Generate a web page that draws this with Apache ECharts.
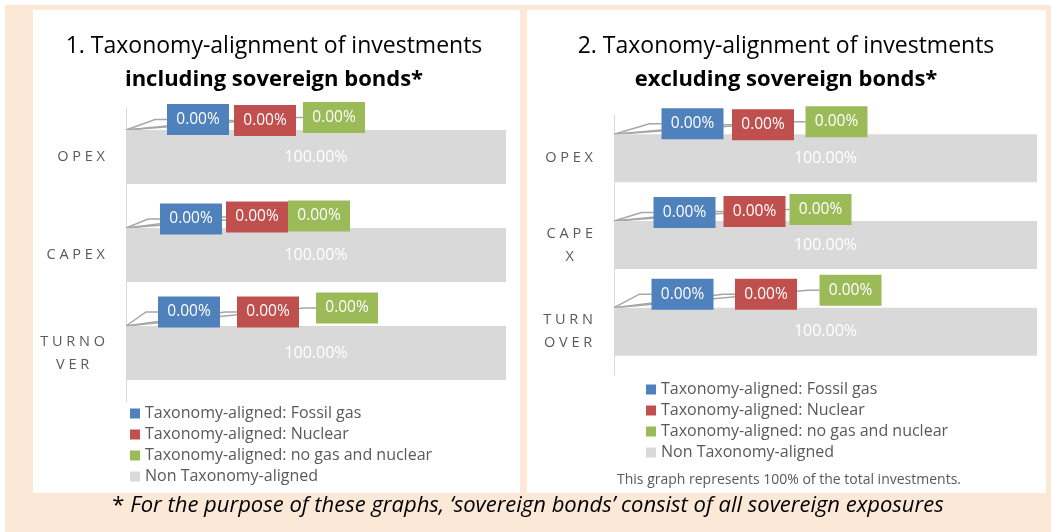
<!DOCTYPE html>
<html>
<head>
<meta charset="utf-8">
<script src="https://cdn.jsdelivr.net/npm/echarts@6/dist/echarts.min.js"></script>
<style>
  html, body { margin: 0; padding: 0; background: #fff; }
  #chart { width: 1051px; height: 532px; }
</style>
</head>
<body>
<div id="chart"></div>
<script>
// data
var categories = ['OPEX', 'CAPEX', 'TURNOVER'];
var seriesNames = [
  'Taxonomy-aligned: Fossil gas',
  'Taxonomy-aligned: Nuclear',
  'Taxonomy-aligned: no gas and nuclear',
  'Non Taxonomy-aligned'
];
var fossilGasIncl = [0, 0, 0];
var nuclearIncl = [0, 0, 0];
var noGasNuclearIncl = [0, 0, 0];
var nonAlignedIncl = [100, 100, 100];
var fossilGasExcl = [0, 0, 0];
var nuclearExcl = [0, 0, 0];
var noGasNuclearExcl = [0, 0, 0];
var nonAlignedExcl = [100, 100, 100];

var FONT = 'Open Sans';
var colors = ['#4F81BD', '#C0504D', '#9BBB59', '#D9D9D9'];

// where the Excel callouts sit, relative to the start of each bar
var calloutShiftIncl = [
  [[72, -37.5], [65, -36], [63, -41]],
  [[139, -36.5], [131, -38], [142, -41]],
  [[208, -39.5], [193, -39], [221, -45]]
];
var calloutShiftExcl = [
  [[78.5, -34.5], [70.5, -32.5], [68.5, -37.5]],
  [[149, -33.5], [140.5, -33.5], [152, -37.5]],
  [[222.5, -36.5], [206.5, -35.5], [236.5, -41.5]]
];

var myChart = echarts.init(document.getElementById('chart'));

function pct(p) { return Number(p.value).toFixed(2) + '%'; }

// excel wraps the category names and spaces the letters out
function wrapCat(n) {
  return function (v) {
    var lines = [];
    for (var i = 0; i < v.length; i += n) {
      lines.push('{c|' + v.slice(i, i + n).split('').join(' ') + '}');
    }
    return lines.join('\n');
  };
}

function makeSeries(idx, values, shifts, barW) {
  var list = [];
  for (var s = 0; s < 4; s++) {
    var ser = {
      name: seriesNames[s],
      type: 'bar',
      stack: 'st' + idx,
      xAxisIndex: idx,
      yAxisIndex: idx,
      barWidth: barW,
      data: values[s],
      itemStyle: { color: colors[s] },
      emphasis: { disabled: true },
      label: {
        show: true,
        position: 'inside',
        formatter: pct,
        color: '#fff',
        fontFamily: FONT,
        fontSize: 16
      }
    };
    if (s < 3) {
      (function (sh, col) {
        ser.label.fontSize = 15.5;
        ser.label.backgroundColor = col;
        ser.label.width = 62;
        ser.label.height = 31;
        ser.label.lineHeight = 31;
        ser.label.align = 'center';
        ser.labelLine = { show: true, length2: 12, lineStyle: { color: '#A6A6A6', width: 1.5 } };
        ser.labelLayout = function (p) {
          return { dx: sh[p.dataIndex][0], dy: sh[p.dataIndex][1] };
        };
      })(shifts[s], colors[s]);
    }
    list.push(ser);
  }
  return list;
}

function titleText(a, b) {
  return '{a|' + a + '}\n{b|' + b + '}';
}
var titleRich = {
  a: { fontFamily: FONT, fontSize: 23, fontWeight: 'normal', color: '#000', lineHeight: 33 },
  b: { fontFamily: FONT, fontSize: 22, fontWeight: 'bold', color: '#000', lineHeight: 33 }
};

function yAx(idx, n) {
  return {
    type: 'category', gridIndex: idx, data: categories, inverse: true,
    axisLine: { lineStyle: { color: '#D9D9D9', width: 1 } },
    axisTick: { show: false },
    axisLabel: {
      margin: 21, color: '#595959', fontFamily: FONT, fontSize: 14.5,
      formatter: wrapCat(n),
      rich: { c: { align: 'center', color: '#595959', fontFamily: FONT, fontSize: 14.5, lineHeight: 23 } }
    }
  };
}
function xAx(idx) {
  return { type: 'value', gridIndex: idx, min: 0, max: 100, show: false };
}

function legendAt(left, top) {
  return {
    orient: 'vertical', left: left, top: top, padding: 0,
    itemWidth: 10, itemHeight: 10, itemGap: 5, icon: 'rect',
    selectedMode: false, data: seriesNames,
    textStyle: { fontFamily: FONT, fontSize: 16, color: '#595959', lineHeight: 16 }
  };
}

var option = {
  animation: false,
  graphic: [
    { type: 'rect', z: -10, silent: true, shape: { x: 5, y: 5, width: 1046, height: 527 }, style: { fill: '#FBE8D7' } },
    { type: 'rect', z: -9, silent: true, shape: { x: 33, y: 10, width: 487, height: 483 }, style: { fill: '#fff' } },
    { type: 'rect', z: -9, silent: true, shape: { x: 527, y: 10, width: 519, height: 483 }, style: { fill: '#fff' } },
    {
      type: 'text', silent: true, z: 10,
      style: {
        x: 789, y: 480, align: 'center', verticalAlign: 'middle',
        text: 'This graph represents 100% of the total investments.',
        font: '14px "' + FONT + '"', fill: '#595959'
      }
    },
    {
      type: 'text', silent: true, z: 10,
      style: {
        x: 528, y: 506, align: 'center', verticalAlign: 'middle',
        text: '{s|* }{i|For the purpose of these graphs, \u2018sovereign bonds\u2019 consist of all sovereign exposures}',
        rich: {
          s: { fontFamily: FONT, fontSize: 22, fill: '#000' },
          i: { fontFamily: FONT, fontSize: 22, fontStyle: 'italic', fill: '#000' }
        }
      }
    }
  ],
  title: [
    { left: 274, top: 30, padding: 0, textAlign: 'center',
      text: titleText('1. Taxonomy-alignment of investments', 'including sovereign bonds*'),
      textStyle: { rich: titleRich } },
    { left: 786, top: 30, padding: 0, textAlign: 'center',
      text: titleText('2. Taxonomy-alignment of investments', 'excluding sovereign bonds*'),
      textStyle: { rich: titleRich } }
  ],
  legend: [legendAt(130, 405.5), legendAt(646, 381.5)],
  grid: [
    { left: 126, top: 108, width: 380, height: 294 },
    { left: 614, top: 115, width: 423, height: 260 }
  ],
  xAxis: [xAx(0), xAx(1)],
  yAxis: [yAx(0, 5), yAx(1, 4)],
  series: makeSeries(0, [fossilGasIncl, nuclearIncl, noGasNuclearIncl, nonAlignedIncl], calloutShiftIncl, 54)
    .concat(makeSeries(1, [fossilGasExcl, nuclearExcl, noGasNuclearExcl, nonAlignedExcl], calloutShiftExcl, 48))
};

myChart.setOption(option);
</script>
</body>
</html>
